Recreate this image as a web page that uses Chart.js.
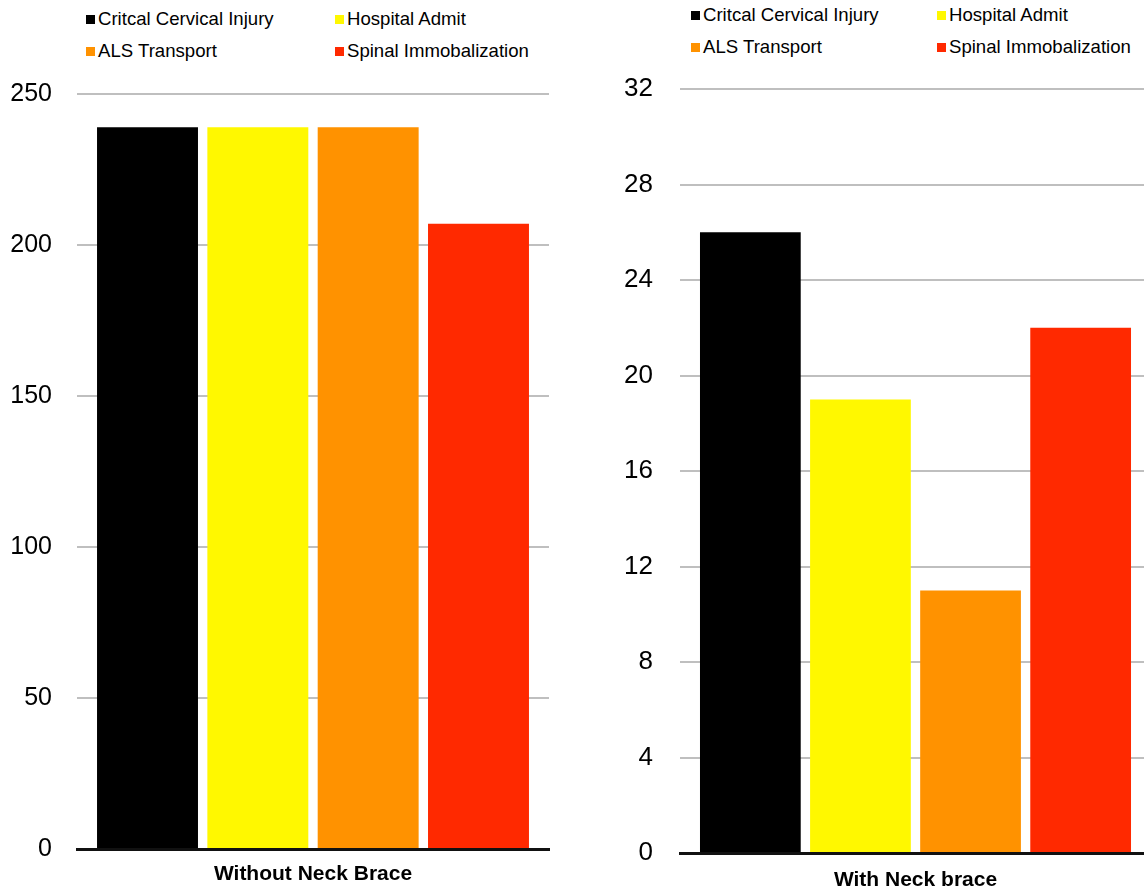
<!DOCTYPE html>
<html>
<head>
<meta charset="utf-8">
<script src="https://cdn.jsdelivr.net/npm/chart.js@4.4.1/dist/chart.umd.min.js"></script>
<style>
  html, body { margin: 0; padding: 0; background: #fff; overflow: hidden; width: 1144px; height: 890px; }
  body { position: relative; font-family: 'Liberation Sans', Arial, sans-serif; }
  canvas { position: absolute; top: 0; }
  #chartLeft { left: 0; }
  #chartRight { left: 600px; }
  .legend { position: absolute; font-size: 18.6px; color: #000; }
  .legend .item { position: absolute; white-space: nowrap; line-height: 20px; }
  .legend .box { position: absolute; width: 9px; height: 9px; top: 6px; }
  .legend .label { position: absolute; left: 12px; top: 0; }
</style>
</head>
<body>
<div id="legendLeft" class="legend"></div>
<div id="legendRight" class="legend"></div>
<canvas id="chartLeft" width="560" height="890"></canvas>
<canvas id="chartRight" width="560" height="890"></canvas>
<script>
// dados
const seriesNames = ['Critcal Cervical Injury', 'Hospital Admit', 'ALS Transport', 'Spinal Immobalization'];
const seriesColors = ['#000000', '#FFF800', '#FF9200', '#FF2900'];
const categoryWithout = ['Without Neck Brace'];
const categoryWith = ['With Neck brace'];
const withoutBrace = [239, 239, 239, 207];
const withBrace = [26, 19, 11, 22];
const ticksWithout = { max: 250, step: 50 };
const ticksWith = { max: 32, step: 4 };

const fontFamily = "'Liberation Sans', Arial, sans-serif";

// legenda em html, dois itens por linha
function buildLegend(id, left, top, colGap, rowGap) {
    const el = document.getElementById(id);
    el.style.left = left + 'px';
    el.style.top = top + 'px';
    seriesNames.forEach(function(name, i) {
        const item = document.createElement('div');
        item.className = 'item';
        item.style.left = (i % 2) * colGap + 'px';
        item.style.top = Math.floor(i / 2) * rowGap + 'px';
        const box = document.createElement('span');
        box.className = 'box';
        box.style.background = seriesColors[i];
        const label = document.createElement('span');
        label.className = 'label';
        label.textContent = name;
        item.appendChild(box);
        item.appendChild(label);
        el.appendChild(item);
    });
}
buildLegend('legendLeft', 86, 9, 249, 32);
buildLegend('legendRight', 691, 5, 246, 32);

function makeChart(canvasId, labels, values, tickCfg, opts) {
    const ctx = document.getElementById(canvasId).getContext('2d');
    return new Chart(ctx, {
        type: 'bar',
        data: {
            labels: labels,
            datasets: seriesNames.map(function(name, i) {
                return {
                    label: name,
                    data: [values[i]],
                    backgroundColor: seriesColors[i],
                    borderWidth: 0,
                    categoryPercentage: 0.935,
                    barPercentage: 0.915
                };
            })
        },
        options: {
            responsive: false,
            animation: false,
            layout: {
                padding: { top: opts.top, right: opts.right, bottom: 0, left: 0 }
            },
            plugins: {
                legend: { display: false },
                tooltip: { enabled: false }
            },
            scales: {
                x: {
                    grid: { display: false, drawTicks: false },
                    border: { display: true, color: '#111', width: 3 },
                    ticks: {
                        color: '#000',
                        padding: opts.xPad,
                        font: { family: fontFamily, size: 21, weight: 'bold' }
                    },
                    afterFit: function(scale) { scale.height = opts.xHeight; }
                },
                y: {
                    min: 0,
                    max: tickCfg.max,
                    grid: {
                        drawTicks: false,
                        lineWidth: 2,
                        color: function(c) { return c.tick && c.tick.value === 0 ? 'rgba(0,0,0,0)' : '#BFBFBF'; }
                    },
                    border: { display: false },
                    ticks: {
                        stepSize: tickCfg.step,
                        color: '#000',
                        padding: opts.yPad,
                        font: { family: fontFamily, size: opts.tickSize }
                    },
                    afterFit: function(scale) {
                        scale.width = opts.yWidth;
                        scale.paddingTop = 16;
                        scale.paddingBottom = 16;
                    }
                }
            }
        }
    });
}

makeChart('chartLeft', categoryWithout, withoutBrace, ticksWithout,
    { top: 94, right: 11, xHeight: 41, xPad: 13, yWidth: 77, yPad: 25, tickSize: 25 });
makeChart('chartRight', categoryWith, withBrace, ticksWith,
    { top: 89, right: 9, xHeight: 37, xPad: 15, yWidth: 80, yPad: 27, tickSize: 26 });
</script>
</body>
</html>
